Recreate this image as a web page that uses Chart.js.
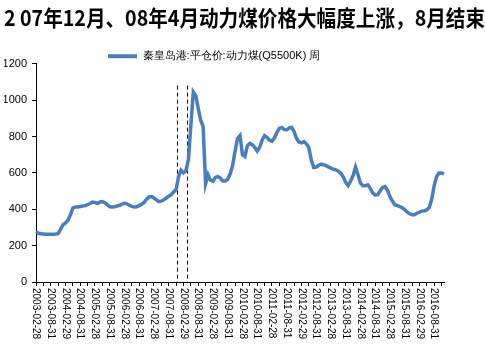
<!DOCTYPE html>
<html><head><meta charset="utf-8">
<script src="https://cdn.jsdelivr.net/npm/chart.js@4/dist/chart.umd.min.js"></script>
<style>html,body{margin:0;padding:0;background:#fff}#wrap{width:485px;height:355px;position:relative}</style>
</head><body><div id="wrap"><canvas id="c" width="485" height="355"></canvas></div>
<script>
const titleText = '2 07年12月、08年4月动力煤价格大幅度上涨，8月结束';
const seriesName = '秦皇岛港:平仓价:动力煤(Q5500K) 周';

// monthly samples (month-end), 2003-02 .. 2016-12
const values = [
 277,268,265,264,263,263,263,263,264,266,
 290,315,325,340,370,408,412,413,415,418,
 420,425,432,440,438,432,440,442,436,425,
 414,412,414,418,422,428,433,430,422,416,
 412,414,420,428,438,455,468,470,462,452,
 442,445,452,462,472,480,495,508,580,615,
 600,612,671,860,1045,1025,955,890,855,540,
 590,560,555,575,580,572,555,555,565,595,
 640,720,790,805,700,690,750,762,755,740,
 720,740,780,805,795,780,775,792,822,845,
 850,838,837,848,850,828,790,770,765,772,
 760,740,670,630,632,642,648,645,640,633,
 626,620,617,610,598,578,548,530,555,585,
 632,590,545,530,530,534,515,490,479,480,
 500,520,525,505,470,445,425,420,415,408,
 398,385,375,370,370,378,385,390,392,396,
 410,455,530,580,600,600,594
];
const xTickLabels = ['2003-02-28','2003-08-31','2004-02-29','2004-08-31','2005-02-28','2005-08-31',
 '2006-02-28','2006-08-31','2007-02-28','2007-08-31','2008-02-29','2008-08-31','2009-02-28','2009-08-31',
 '2010-02-28','2010-08-31','2011-02-28','2011-08-31','2012-02-29','2012-08-31','2013-02-28','2013-08-31',
 '2014-02-28','2014-08-31','2015-02-28','2015-08-31','2016-02-29','2016-08-31'];
const yTicks = [0,200,400,600,800,1000,1200];
const markerDates = ['2007-12-08','2008-04-11'];
const markerTop = 1080;

const categories = [];
for (let i = 0; i < values.length; i++) {
  const y = 2003 + Math.floor((1 + i) / 12);
  const m = (1 + i) % 12;
  const d = new Date(Date.UTC(y, m + 1, 0)).getUTCDate();
  categories.push(y + '-' + String(m + 1).padStart(2, '0') + '-' + String(d).padStart(2, '0'));
}
function dateToIndex(s) {
  const [y, m, d] = s.split('-').map(Number);
  const ym = y + '-' + String(m).padStart(2, '0');
  const idx = categories.findIndex(c => c.startsWith(ym));
  const dim = new Date(Date.UTC(y, m, 0)).getUTCDate();
  return idx - 1 + d / dim;
}

const lineColor = '#4A7EBB';
const axisFont = {family: '"Liberation Sans", Arial, sans-serif', size: 11};

const boxShift = {
  id: 'boxShift',
  afterLayout(chart) {
    const lg = chart.legend;
    const target = chart.chartArea.left + 72;
    const dx = target - (lg.left + lg.options.labels.padding);
    lg.left += dx; lg.right += dx;
    lg.top += 8; lg.bottom += 8;
    const tb = chart.titleBlock;
    if (tb) { tb.right = chart.width; tb.width = tb.right - tb.left; }
  }
};
const markers = {
  id: 'markers',
  beforeDatasetsDraw(chart) {
    const xs = chart.scales.x, ys = chart.scales.y, ctx = chart.ctx;
    ctx.save();
    ctx.strokeStyle = '#000'; ctx.lineWidth = 1; ctx.setLineDash([4, 3]);
    markerDates.forEach(dt => {
      const x = Math.round(xs.getPixelForValue(dateToIndex(dt))) + 0.5;
      ctx.beginPath(); ctx.moveTo(x, ys.getPixelForValue(markerTop)); ctx.lineTo(x, ys.getPixelForValue(0)); ctx.stroke();
    });
    ctx.restore();
  }
};
const xLabels = {
  id: 'xLabels',
  afterDraw(chart) {
    const xs = chart.scales.x, ctx = chart.ctx;
    ctx.save();
    ctx.font = '10px "Liberation Sans", Arial, sans-serif';
    ctx.fillStyle = '#000'; ctx.textAlign = 'left'; ctx.textBaseline = 'middle';
    xTickLabels.forEach(lab => {
      const i = categories.indexOf(lab);
      if (i < 0) return;
      const x = xs.getPixelForValue(i);
      ctx.save(); ctx.translate(x, xs.top + 6); ctx.rotate(Math.PI / 2);
      ctx.fillText(lab, 0, 0); ctx.restore();
    });
    ctx.restore();
  }
};

new Chart(document.getElementById('c'), {
  type: 'line',
  data: {labels: categories, datasets: [{label: seriesName, data: values, borderColor: lineColor, backgroundColor: lineColor,
    borderWidth: 3.5, pointRadius: 0, tension: 0, fill: false}]},
  options: {
    responsive: false, animation: false, devicePixelRatio: 1,
    layout: {padding: {left: 4, right: 41, top: 0, bottom: 0}},
    plugins: {
      title: {display: true, text: titleText, align: 'start', color: '#000',
        font: {family: '"Noto Sans CJK SC", sans-serif', size: 21.5, weight: 'bold'}, padding: {top: 5, bottom: 10}},
      legend: {display: true, position: 'top', align: 'start',
        labels: {boxWidth: 29, boxHeight: 4, padding: 2, color: '#000', font: axisFont,
          generateLabels: () => [{text: seriesName, fillStyle: lineColor, strokeStyle: lineColor, lineWidth: 0, hidden: false, datasetIndex: 0, fontColor: '#000'}]}},
      tooltip: {enabled: false}
    },
    scales: {
      x: {type: 'category', offset: false,
        grid: {display: true, drawOnChartArea: false, drawTicks: true, tickLength: 4,
          tickColor: c => (c.index % 3 === 0 ? '#000' : 'rgba(0,0,0,0)')},
        border: {display: true, color: '#000', width: 1},
        ticks: {display: false, autoSkip: false},
        afterFit: s => { s.height = 73; }},
      y: {min: 0, max: 1200,
        afterBuildTicks: s => { s.ticks = yTicks.map(v => ({value: v})); },
        ticks: {color: '#000', padding: 5, font: axisFont, callback: v => String(v)},
        grid: {drawOnChartArea: false, tickLength: 4, tickColor: '#000'},
        border: {color: '#000', width: 1},
        afterFit: s => { s.width = 32; }}
    }
  },
  plugins: [boxShift, markers, xLabels]
});
</script></body></html>
